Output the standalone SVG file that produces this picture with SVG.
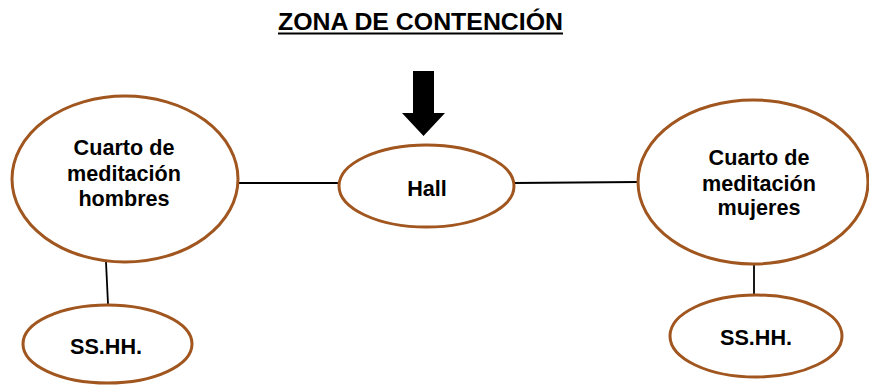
<svg xmlns="http://www.w3.org/2000/svg" width="869" height="385" viewBox="0 0 869 385">
<style>
.node{fill:#fff;stroke:#A0561E;stroke-width:3}
.lbl{font-family:"Liberation Sans",Arial,sans-serif;font-weight:bold;font-size:21.6px;fill:#000;text-anchor:middle}
.conn{stroke:#000;stroke-width:1.8;fill:none}
</style>
<rect width="869" height="385" fill="#fff"/>
<g id="title">
<text x="420.5" y="30" font-family="Liberation Sans, Arial, sans-serif" font-weight="bold" font-size="23.5" text-anchor="middle" textLength="285" lengthAdjust="spacingAndGlyphs">ZONA DE CONTENCIÓN</text>
<rect x="278" y="32.5" width="285" height="2" fill="#000"/>
</g>
<g id="arrow">
<polygon points="413,71 434,71 434,113 445,113 423.5,136 402,113 413,113" fill="#000"/>
</g>
<g id="connectors">
<line class="conn" x1="238" y1="183" x2="339" y2="183"/>
<line class="conn" x1="514" y1="183" x2="638" y2="182"/>
<line class="conn" x1="106" y1="262" x2="108" y2="304"/>
<line class="conn" x1="754" y1="252" x2="754" y2="294"/>
</g>
<g id="cuarto-hombres">
<ellipse class="node" cx="125" cy="179" rx="113" ry="83"/>
<text class="lbl" x="124" y="155">Cuarto de</text>
<text class="lbl" x="124" y="181">meditación</text>
<text class="lbl" x="124" y="206">hombres</text>
</g>
<g id="hall">
<ellipse class="node" cx="426.5" cy="186" rx="87.5" ry="41"/>
<text class="lbl" x="427" y="196">Hall</text>
</g>
<g id="cuarto-mujeres">
<ellipse class="node" cx="753" cy="182" rx="115" ry="82"/>
<text class="lbl" x="759" y="165">Cuarto de</text>
<text class="lbl" x="759" y="191">meditación</text>
<text class="lbl" x="759" y="215">mujeres</text>
</g>
<g id="sshh-hombres">
<ellipse class="node" cx="107.5" cy="344" rx="84.5" ry="39"/>
<text class="lbl" x="106" y="354">SS.HH.</text>
</g>
<g id="sshh-mujeres">
<ellipse class="node" cx="756" cy="336" rx="86" ry="41"/>
<text class="lbl" x="756" y="345">SS.HH.</text>
</g>
</svg>
